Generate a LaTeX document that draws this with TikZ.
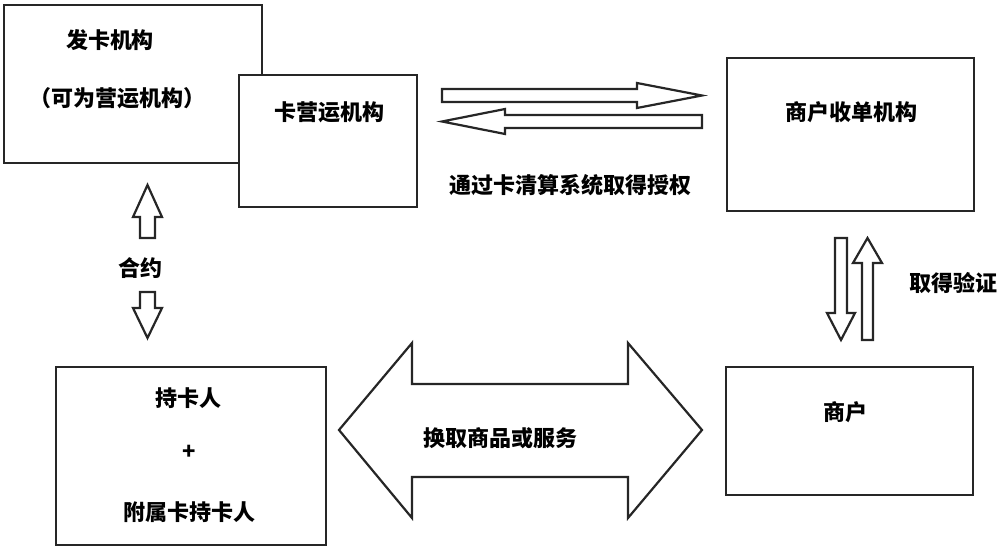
\documentclass[tikz,border=0pt]{standalone}
\usepackage{fontspec}
\newfontfamily\cjk{Noto Sans CJK SC}
\begin{document}
\begin{tikzpicture}[x=1pt,y=-1pt,
  box/.style={draw=black!85,line width=2.6pt,fill=white},
  blockarrow/.style={draw=black!85,line width=2.2pt,fill=white,line join=miter},
  lbl/.style={font=\cjk\bfseries\fontsize{22}{25}\selectfont,inner sep=0pt}]
\useasboundingbox (0,0) rectangle (1005,553);
% boxes
\draw[box] (4,5) rectangle (262,163);
\node[lbl] (fk) at (110,40) {发卡机构};
\node[lbl] (fk2) at (118,98) {（可为营运机构）};
\draw[box] (239,75) rectangle (417,207);
\node[lbl] (ky) at (329,112) {卡营运机构};
\draw[box] (727,58) rectangle (974,211);
\node[lbl] (sd) at (851,112) {商户收单机构};
\draw[box] (56,367) rectangle (326,545);
\node[lbl] (ck) at (188,398) {持卡人};
\node[lbl] (plus) at (189,452) {+};
\node[lbl] (fs) at (189,512) {附属卡持卡人};
\draw[box] (726,367) rectangle (973,495);
\node[lbl] (sh) at (845,412) {商户};
% top horizontal arrows
\draw[blockarrow] (442,89) -- (637,89) -- (637,83) -- (702,95.5) -- (637,108) -- (637,102) -- (442,102) -- cycle;
\draw[blockarrow] (702,115) -- (505,115) -- (505,109) -- (442,121.5) -- (505,134) -- (505,128) -- (702,128) -- cycle;
\node[lbl] (qs) at (570,185) {通过卡清算系统取得授权};
% right vertical arrows
\draw[blockarrow] (835,238) -- (847,238) -- (847,313) -- (855,313) -- (841,340) -- (827,313) -- (835,313) -- cycle;
\draw[blockarrow] (862,340) -- (873,340) -- (873,263) -- (882,263) -- (867.5,238) -- (853,263) -- (862,263) -- cycle;
\node[lbl] (yz) at (953,283) {取得验证};
% left vertical arrows
\draw[blockarrow] (140,238) -- (155,238) -- (155,217) -- (162,217) -- (147.5,185) -- (133,217) -- (140,217) -- cycle;
\draw[blockarrow] (140,292) -- (155,292) -- (155,308) -- (162,308) -- (147.5,338) -- (133,308) -- (140,308) -- cycle;
\node[lbl] (hy) at (140,268) {合约};
% big double arrow
\draw[blockarrow] (339,430) -- (412,343) -- (412,384) -- (628,384) -- (628,343) -- (702,430) -- (628,518) -- (628,477) -- (412,477) -- (412,518) -- cycle;
\node[lbl] (hq) at (500,438) {换取商品或服务};
\end{tikzpicture}
\end{document}
